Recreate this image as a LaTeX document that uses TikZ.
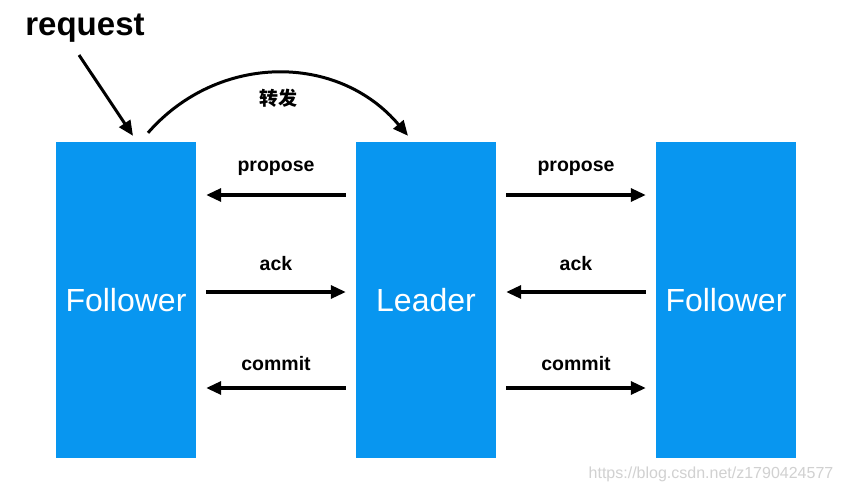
\documentclass[tikz,border=0pt]{standalone}
\usepackage{fontspec}
\setmainfont{Liberation Sans}
\newfontfamily\cjk{Noto Sans CJK SC}
\usetikzlibrary{arrows.meta}
\definecolor{boxblue}{RGB}{8,150,240}
\tikzset{
  box/.style={fill=boxblue, draw=none, minimum width=140pt, minimum height=316pt, inner sep=0pt,
    text=white, font=\fontsize{32}{34}\selectfont},
  msg/.style={line width=3.2pt, -{Triangle[length=15pt,width=13pt]}, shorten <=10pt, shorten >=10pt},
  lbl/.style={font=\bfseries\fontsize{19.5}{22}\selectfont, inner sep=0pt, anchor=base},
  bigarr/.style={line width=3pt, -{Triangle[length=15pt,width=13pt]}},
}
\begin{document}
\begin{tikzpicture}[x=1pt,y=-1pt]
\useasboundingbox (0,0) rectangle (841,493);
\fill[white] (0,0) rectangle (841,493);
\node[box] (F1) at (126,300) {Follower};
\node[box] (L) at (426,300) {Leader};
\node[box] (F2) at (726,300) {Follower};

\node[font=\bfseries\fontsize{33}{36}\selectfont, inner sep=0pt, anchor=base] (req) at (85,35) {request};
\coordinate (reqstart) at (79,55);
\draw[bigarr] (reqstart) -- ([xshift=7pt,yshift=6pt]F1.north);

\draw[bigarr] ([xshift=22pt,yshift=9pt]F1.north) .. controls +(70,-80) and +(-70,-83) .. ([xshift=-18pt,yshift=6pt]L.north);
\node[font=\cjk\bfseries\fontsize{19}{22}\selectfont, inner sep=0pt] (fw) at (278,98) {转发};

% left gap
\draw[msg] ([yshift=105pt]L.west) -- ([yshift=105pt]F1.east);
\draw[msg] ([yshift=8pt]F1.east) -- ([yshift=8pt]L.west);
\draw[msg] ([yshift=-88pt]L.west) -- ([yshift=-88pt]F1.east);
\node[lbl] (p1) at (276,171) {propose};
\node[lbl] (a1) at (276,270) {ack};
\node[lbl] (c1) at (276,370) {commit};

% right gap
\draw[msg] ([yshift=105pt]L.east) -- ([yshift=105pt]F2.west);
\draw[msg] ([yshift=8pt]F2.west) -- ([yshift=8pt]L.east);
\draw[msg] ([yshift=-88pt]L.east) -- ([yshift=-88pt]F2.west);
\node[lbl] (p2) at (576,171) {propose};
\node[lbl] (a2) at (576,270) {ack};
\node[lbl] (c2) at (576,370) {commit};

\node[text=black!18, font=\fontsize{16}{18}\selectfont, inner sep=0pt] (wm) at (711,474) {https://blog.csdn.net/z1790424577};
\end{tikzpicture}
\end{document}
